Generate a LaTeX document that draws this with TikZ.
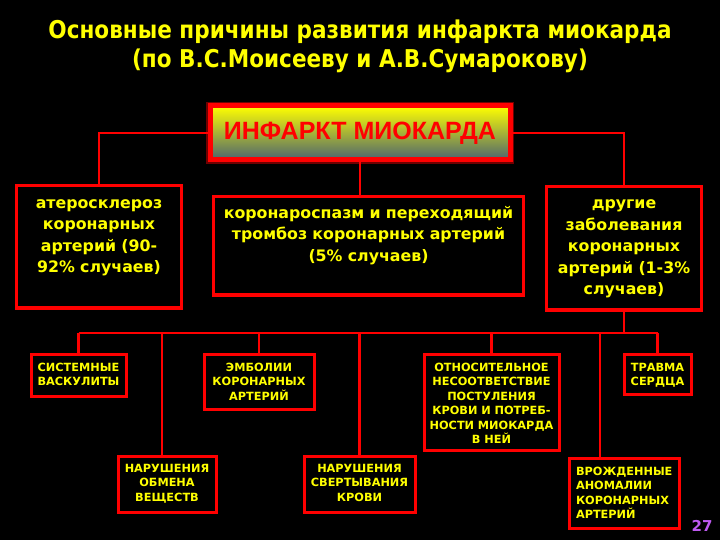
\documentclass[tikz,border=0pt]{standalone}
\usepackage{fontspec}
\setmainfont{DejaVu Sans}
\newfontfamily\titlefont[FakeStretch=0.88]{DejaVu Sans}
\newfontfamily\headfont{Liberation Sans}
\definecolor{redline}{RGB}{255,0,0}
\definecolor{yellowtext}{RGB}{255,255,0}
\definecolor{numpurple}{RGB}{190,90,240}
\definecolor{slate}{RGB}{75,100,112}
\definecolor{darkglow}{RGB}{110,0,0}

\tikzset{
  cause/.style={draw=redline, line width=3.5pt, fill=black, text=yellowtext,
    inner xsep=0pt, inner ysep=0pt, align=center, anchor=north,
    font=\bfseries\fontsize{15.8}{21.5}\selectfont},
  kind/.style={cause, line width=3pt, font=\bfseries\fontsize{11.3}{14.4}\selectfont},
  link/.style={draw=redline, line width=2.5pt},
}

\begin{document}
\begin{tikzpicture}[x=1pt,y=-1pt]

\fill[black] (0,0) rectangle (720,540);
\useasboundingbox (0,0) rectangle (720,540);

\coordinate (bus) at (0,333);
\coordinate (d1) at (162,333);
\coordinate (d2) at (600,333);

\node[font=\titlefont\bfseries\fontsize{24.5}{29}\selectfont, text=yellowtext, align=center]
  (title) at (360,46) {Основные причины развития инфаркта миокарда\\(по В.С.Моисееву и А.В.Сумарокову)};

% main box
\node[draw=redline, line width=5pt, preaction={draw=darkglow, line width=8pt},
  top color=yellowtext, middle color={rgb,255:red,225;green,185;blue,45}, bottom color=slate,
  minimum width=300pt, minimum height=54pt, text=redline,
  font=\headfont\bfseries\fontsize{25}{28}\selectfont] (mi) at (360,133) {ИНФАРКТ МИОКАРДА};

\node[cause, text width=165pt, text height=22.3pt, text depth=99.7pt] (ath) at (99,184)
  {атеросклероз\\коронарных\\артерий (90-\\92\% случаев)};
\node[cause, text width=310pt, text height=21.3pt, text depth=76.7pt] (kor) at (368.5,195)
  {коронароспазм и переходящий\\тромбоз коронарных артерий\\(5\% случаев)};
\node[cause, text width=155pt, text height=22pt, text depth=101pt] (dr) at (624,185)
  {другие\\заболевания\\коронарных\\артерий (1-3\%\\случаев)};

\node[kind, text width=95pt, text height=17pt, text depth=25pt] (sv) at (78.5,353)
  {СИСТЕМНЫЕ\\ВАСКУЛИТЫ};
\node[kind, text width=110pt, text height=17pt, text depth=38pt] (emb) at (259,353)
  {ЭМБОЛИИ\\КОРОНАРНЫХ\\АРТЕРИЙ};
\node[kind, text width=135pt, text height=17pt, text depth=79pt] (otn) at (491.5,353)
  {ОТНОСИТЕЛЬНОЕ\\НЕСООТВЕТСТВИЕ\\ПОСТУЛЕНИЯ\\КРОВИ И ПОТРЕБ-\\НОСТИ МИОКАРДА\\В НЕЙ};
\node[kind, text width=67pt, text height=17pt, text depth=23pt] (tr) at (657.5,353)
  {ТРАВМА\\СЕРДЦА};
\node[kind, text width=98pt, text height=16pt, text depth=40pt] (obm) at (167,455)
  {НАРУШЕНИЯ\\ОБМЕНА\\ВЕЩЕСТВ};
\node[kind, text width=111pt, text height=16pt, text depth=40pt] (svr) at (359.5,455)
  {НАРУШЕНИЯ\\СВЕРТЫВАНИЯ\\КРОВИ};
\node[kind, align=left, inner xsep=7pt, text width=96pt, text height=17pt, text depth=53pt] (vro) at (624,457)
  {ВРОЖДЕННЫЕ\\АНОМАЛИИ\\КОРОНАРНЫХ\\АРТЕРИЙ};

\node[font=\bfseries\fontsize{15}{18}\selectfont, text=numpurple] (num) at (702,526) {27};

% links from the main box
\draw[link] (mi.west) -| (ath.north);
\draw[link] (mi.east) -| (dr.north);
\draw[link] (mi.south) -- (mi.south |- kor.north);

% lower bus
\draw[link] (dr.south) -- (dr.south |- bus);
\draw[link] (sv.north |- bus) -- (tr.north |- bus);
\draw[link] (sv.north |- bus) -- (sv.north);
\draw[link] (emb.north |- bus) -- (emb.north);
\draw[link] (svr.north |- bus) -- (svr.north);
\draw[link] (otn.north |- bus) -- (otn.north);
\draw[link] (tr.north |- bus) -- (tr.north);
\draw[link] (d1) -- (d1 |- obm.north);
\draw[link] (d2) -- (d2 |- vro.north);

\end{tikzpicture}
\end{document}
